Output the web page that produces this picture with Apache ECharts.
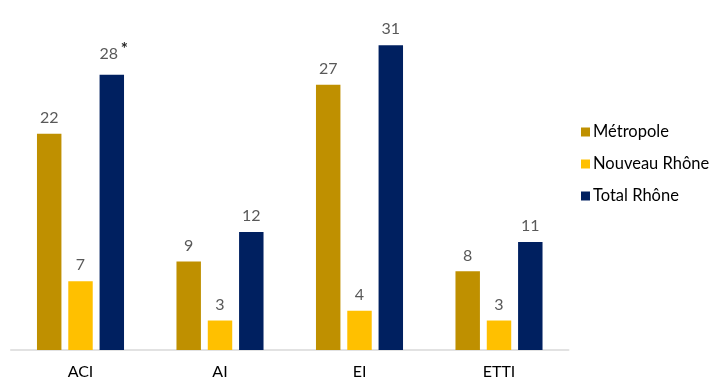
<!DOCTYPE html>
<html><head><meta charset="utf-8">
<script src="https://cdn.jsdelivr.net/npm/echarts@6/dist/echarts.min.js"></script>
<style>html,body{margin:0;padding:0;background:#fff}#c{width:710px;height:378px}</style>
</head><body><div id="c"></div>
<script>
var categories = ['ACI', 'AI', 'EI', 'ETTI'];
var metropole = [22, 9, 27, 8];
var nouveauRhone = [7, 3, 4, 3];
var totalRhone = [28, 12, 31, 11];
var seriesNames = ['Métropole', 'Nouveau Rhône', 'Total Rhône'];
var colors = ['#BF9000', '#FFC000', '#002060'];
var starred = [0]; // Total Rhône ACI marked with *

var font = 'Lato, "Liberation Sans", sans-serif';
var chart = echarts.init(document.getElementById('c'), null, {renderer: 'canvas'});

function lbl() {
  return {show: true, position: 'top', distance: 8, color: '#595959', fontSize: 16, fontFamily: font};
}
var totalData = totalRhone.map(function (v, i) {
  if (starred.indexOf(i) >= 0) {
    return {value: v, label: {
      formatter: '{p|}{a|{c}}{s|*}',
      rich: {
        p: {width: 4},
        a: {color: '#595959', fontSize: 16, fontFamily: font},
        s: {width: 10, color: '#262626', fontSize: 17, fontWeight: 'bold', fontFamily: font, align: 'right', verticalAlign: 'top', padding: [0, 0, 9, 0]}
      }
    }};
  }
  return v;
});

chart.setOption({
  animation: false,
  textStyle: {fontFamily: font},
  grid: {left: 10.75, right: 141.25, top: 6, bottom: 28, containLabel: false, outerBoundsMode: 'none'},
  legend: {
    orient: 'vertical', left: 576, top: 118, itemWidth: 9, itemHeight: 9, itemGap: 14,
    icon: 'rect',
    textStyle: {fontSize: 16.5, color: '#000', fontFamily: font, padding: [0, 0, 0, -2], lineHeight: 18},
    data: seriesNames
  },
  xAxis: {
    type: 'category', data: categories,
    axisLine: {lineStyle: {color: '#d9d9d9', width: 1.5}},
    axisTick: {show: false},
    axisLabel: {color: '#000', fontSize: 16, fontFamily: font, margin: 14}
  },
  yAxis: {type: 'value', min: 0, max: 35, show: false, splitLine: {show: false}},
  series: [
    {name: seriesNames[0], type: 'bar', data: metropole, itemStyle: {color: colors[0]}, barGap: '28%', barCategoryGap: '37.6%', label: lbl()},
    {name: seriesNames[1], type: 'bar', data: nouveauRhone, itemStyle: {color: colors[1]}, label: lbl()},
    {name: seriesNames[2], type: 'bar', data: totalData, itemStyle: {color: colors[2]}, label: lbl()}
  ]
});
</script></body></html>
